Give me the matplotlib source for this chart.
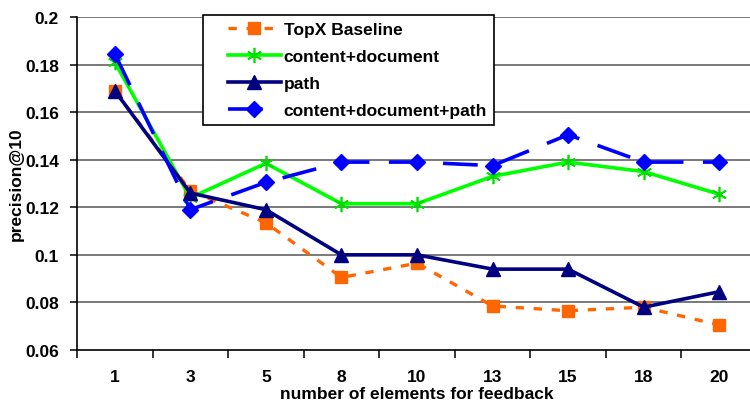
import matplotlib
matplotlib.use("Agg")
import matplotlib.pyplot as plt
from matplotlib.lines import Line2D
from matplotlib.legend_handler import HandlerLine2D
import numpy as np

plt.rcParams['font.family'] = ['Liberation Sans', 'DejaVu Sans']
plt.rcParams['lines.scale_dashes'] = False

categories = ["1", "3", "5", "8", "10", "13", "15", "18", "20"]
topx_baseline = [0.169, 0.127, 0.1135, 0.0905, 0.0965, 0.0785, 0.0765, 0.078, 0.0705]
content_document = [0.181, 0.124, 0.1385, 0.1215, 0.1215, 0.133, 0.139, 0.135, 0.1255]
path = [0.169, 0.126, 0.119, 0.1, 0.1, 0.094, 0.094, 0.078, 0.0845]
content_document_path = [0.1845, 0.119, 0.1305, 0.139, 0.139, 0.1375, 0.1505, 0.139, 0.139]
y_ticks = [0.06, 0.08, 0.1, 0.12, 0.14, 0.16, 0.18, 0.2]
y_tick_labels = ["0.06", "0.08", "0.1", "0.12", "0.14", "0.16", "0.18", "0.2"]

fig = plt.figure(figsize=(7.5, 4.06), dpi=100)
ax = fig.add_axes([77/750, 1 - 351/406, 680/750, 333/406])

x = np.arange(len(categories))
ax.set_xlim(-0.5, len(categories) - 0.5)
ax.set_ylim(0.06, 0.2)

for yv in y_ticks[1:]:
    ax.axhline(yv, color='#555555', lw=1.1, zorder=1)

l1, = ax.plot(x, topx_baseline, color='#FF6600', lw=2.4, marker='s', ms=9,
              mec='#FF6600', mfc='#FF6600', label='TopX Baseline', zorder=3)
l1.set_dashes([6, 7])
ax.plot(x, content_document, color='#00FF00', lw=2.6, marker=(6, 2, 0), ms=11,
        mec='#00DD00', mew=1.2, label='content+document', zorder=4)
ax.plot(x, path, color='#000080', lw=2.6, marker='^', ms=10,
        label='path', zorder=5)
l4, = ax.plot(x, content_document_path, color='#0000FF', lw=2.6, marker='D', ms=8,
              label='content+document+path', zorder=6)
l4.set_dashes([25, 14])

fs = 12.5
ax.set_yticks(y_ticks)
ax.set_yticklabels(y_tick_labels, fontsize=fs, fontweight='bold')
ax.set_xticks(x)
ax.set_xticklabels(categories, fontsize=fs, fontweight='bold')
ax.set_xticks(np.arange(len(categories) + 1) - 0.5, minor=True)
ax.tick_params(axis='x', which='major', length=0, pad=14)
ax.tick_params(axis='x', which='minor', length=6, width=1.1, direction='out')
ax.tick_params(axis='y', length=5, width=1.1, direction='out', pad=8)

for s in ['top', 'right']:
    ax.spines[s].set_visible(False)
ax.spines['left'].set_linewidth(1.2)
ax.spines['bottom'].set_linewidth(1.2)

ax.set_ylabel('precision@10', fontsize=fs, fontweight='bold', labelpad=1)
ax.set_xlabel('number of elements for feedback', fontsize=fs, fontweight='bold', labelpad=1)

leg = ax.legend(loc='upper left', bbox_to_anchor=((203 - 77)/680, 1.006), prop={'size': fs, 'weight': 'bold'},
                frameon=True, fancybox=False, edgecolor='black', framealpha=1,
                handlelength=4.08, handletextpad=0.17, borderpad=0.4, labelspacing=0.68,
                borderaxespad=0, handler_map={Line2D: HandlerLine2D(xpad=1.03)})
leg.get_frame().set_linewidth(1.2)

fig.savefig('out.png', dpi=100)
